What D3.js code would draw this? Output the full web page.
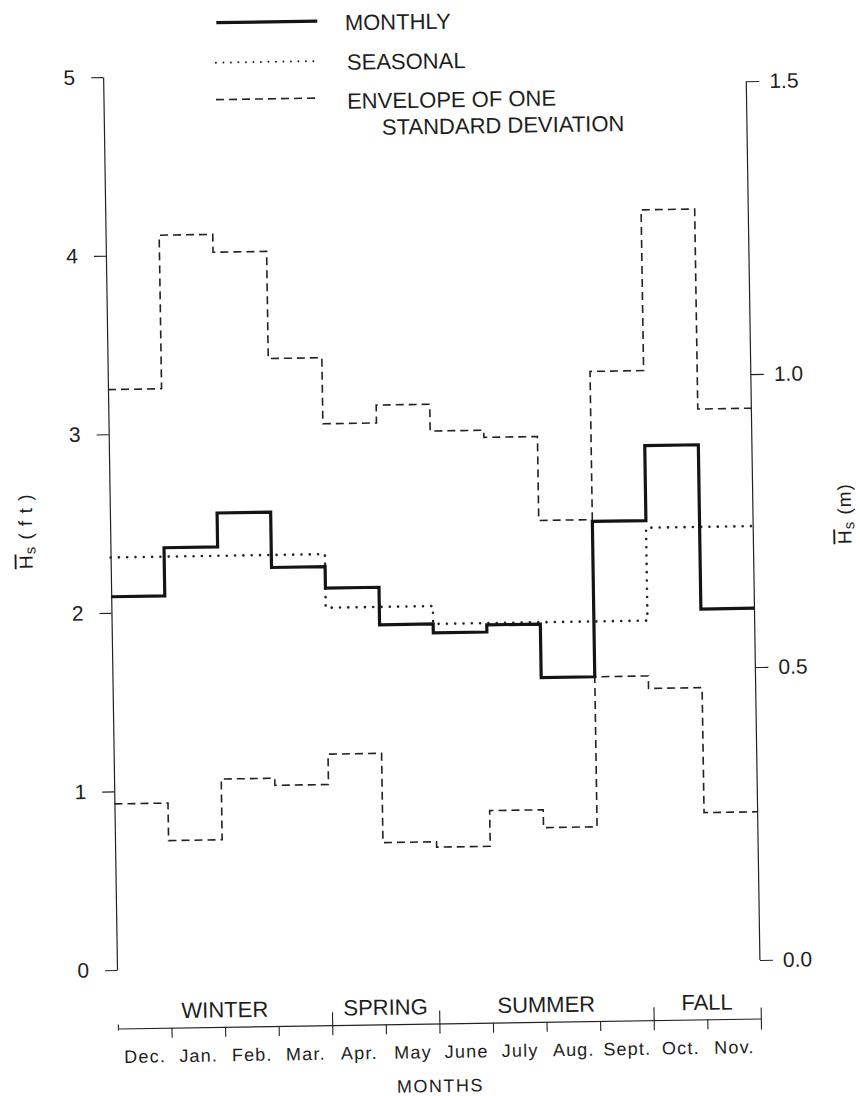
<!DOCTYPE html>
<html>
<head>
<meta charset="utf-8">
<script src="https://cdn.jsdelivr.net/npm/d3@7"></script>
<style>
  html, body { margin: 0; padding: 0; background: #fff; }
  svg { display: block; }
  text { font-family: "Liberation Sans", Arial, Helvetica, sans-serif; fill: #1e1e1e; }
</style>
</head>
<body>
<svg id="chart" width="860" height="1096"></svg>
<script>
// Mean significant wave height by month, in feet
const months = ["Dec.", "Jan.", "Feb.", "Mar.", "Apr.", "May", "June", "July", "Aug.", "Sept.", "Oct.", "Nov."];
const monthlyFt = [2.09, 2.36, 2.55, 2.24, 2.12, 1.91, 1.86, 1.90, 1.60, 2.47, 2.89, 1.97];
// One-standard-deviation envelope
const upperFt = [3.25, 4.11, 4.01, 3.41, 3.04, 3.14, 2.99, 2.95, 2.48, 3.31, 4.21, 3.09];
const lowerFt = [0.93, 0.72, 1.06, 1.02, 1.19, 0.69, 0.66, 0.86, 0.76, 1.60, 1.53, 0.83];
// Seasonal means (season start given as month index)
const seasons = ["WINTER", "SPRING", "SUMMER", "FALL"];
const seasonStart = [0, 4, 6, 10];
const seasonalFt = [2.31, 2.01, 1.91, 2.43];
// Axis ticks
const ftTicks = [0, 1, 2, 3, 4, 5];
const mTicks = [0.0, 0.5, 1.0, 1.5];
const FT_TO_M = 0.3048;

const svg = d3.select("#chart");

// Plot frame
const plotLeft = 117, plotRight = 760, plotBottom = 970, plotTop = 77;
const monthAxisY = 1028.5;

const x = d3.scaleLinear().domain([0, 12]).range([plotLeft, plotRight]);
const yFt = d3.scaleLinear().domain([0, 5]).range([plotBottom, plotTop]);
const yM = d3.scaleLinear().domain([0, 5 * FT_TO_M]).range([plotBottom, plotTop]);

// whole sheet sits slightly tilted
const g = svg.append("g").attr("transform", `rotate(-0.89, ${plotLeft}, ${plotBottom})`);

const INK = "#222";
const TEXT = "#262626";

// ---- Left axis (feet)
const axL = g.append("g")
  .attr("transform", `translate(${plotLeft},0)`)
  .call(d3.axisLeft(yFt).tickValues(ftTicks).tickFormat(d3.format("d"))
    .tickSize(12).tickSizeOuter(0).tickPadding(16));
axL.select(".domain").attr("stroke", INK).attr("stroke-width", 1.2);
axL.selectAll(".tick line").attr("stroke", INK).attr("stroke-width", 1.1);
axL.selectAll(".tick text").attr("font-size", 21).attr("font-family", null).attr("fill", TEXT);

// ---- Right axis (metres)
const axR = g.append("g")
  .attr("transform", `translate(${plotRight},0)`)
  .call(d3.axisRight(yM).tickValues(mTicks).tickFormat(d3.format(".1f"))
    .tickSize(13).tickSizeOuter(0).tickPadding(10));
axR.select(".domain").attr("stroke", INK).attr("stroke-width", 1.2)
  .attr("d", `M0,${yM(0)}V${yM(1.5)}`);
axR.selectAll(".tick line").attr("stroke", INK).attr("stroke-width", 1.1);
axR.selectAll(".tick text").attr("font-size", 21).attr("font-family", null).attr("fill", TEXT);

// ---- Axis titles
function hsTitle(tx, ty, unit) {
  const t = g.append("text")
    .attr("transform", `translate(${tx},${ty}) rotate(-90)`)
    .attr("text-anchor", "middle")
    .attr("font-size", 19)
    .attr("letter-spacing", 1)
    .attr("fill", TEXT);
  t.append("tspan").text("H").style("text-decoration", "overline");
  t.append("tspan").text("s").attr("font-size", 15).attr("dy", 3);
  t.append("tspan").text(unit).attr("dy", -3);
}
hsTitle(39, 530, " ( f t )");
hsTitle(858, 525, " (m)");

// ---- Month / season axis
const monthIdx = d3.range(0, 13);
const seasonEdges = [4, 6, 10];
const axB = g.append("g")
  .attr("transform", `translate(0,${monthAxisY})`)
  .call(d3.axisBottom(x).tickValues(monthIdx).tickFormat("").tickSize(10).tickSizeOuter(0));
axB.select(".domain").attr("stroke", INK).attr("stroke-width", 1.2);
axB.selectAll(".tick line")
  .attr("stroke", INK).attr("stroke-width", 1.1)
  .attr("y1", d => seasonEdges.includes(d) ? -13 : d === 12 ? -11 : d === 0 ? -4 : 0)
  .attr("y2", d => d === 0 ? 2 : d === 12 ? 11 : 10);

g.selectAll(".month-label")
  .data(months)
  .join("text")
  .attr("class", "month-label")
  .attr("x", (d, i) => x(i + 0.5))
  .attr("y", 1063)
  .attr("text-anchor", "middle")
  .attr("font-size", 18)
  .attr("letter-spacing", 1.2)
  .attr("fill", TEXT)
  .text(d => d);

const seasonEnd = seasonStart.slice(1).concat([12]);
g.selectAll(".season-label")
  .data(seasons)
  .join("text")
  .attr("class", "season-label")
  .attr("x", (d, i) => x((seasonStart[i] + seasonEnd[i]) / 2))
  .attr("y", 1019)
  .attr("text-anchor", "middle")
  .attr("font-size", 22)
  .attr("fill", TEXT)
  .text(d => d);

g.append("text")
  .attr("x", x(6))
  .attr("y", 1097)
  .attr("text-anchor", "middle")
  .attr("font-size", 18)
  .attr("letter-spacing", 1.5)
  .attr("fill", TEXT)
  .text("MONTHS");

// ---- Step lines
const stepLine = d3.line()
  .x(d => x(d[0]))
  .y(d => yFt(d[1]))
  .curve(d3.curveStepAfter);

const monthSteps = vals => vals.map((v, i) => [i, v]).concat([[12, vals[vals.length - 1]]]);
const seasonSteps = seasonStart.map((s, i) => [s, seasonalFt[i]])
  .concat([[12, seasonalFt[seasonalFt.length - 1]]]);

const dashed = sel => sel.attr("fill", "none").attr("stroke", "#222")
  .attr("stroke-width", 1.6).attr("stroke-dasharray", "8,5");
const dotted = sel => sel.attr("fill", "none").attr("stroke", "#222")
  .attr("stroke-width", 2.6).attr("stroke-dasharray", "0,8.3").attr("stroke-linecap", "round");
const solid = sel => sel.attr("fill", "none").attr("stroke", "#141414")
  .attr("stroke-width", 3.2).attr("stroke-linejoin", "miter");

g.append("path").attr("d", stepLine(monthSteps(upperFt))).call(dashed);
g.append("path").attr("d", stepLine(monthSteps(lowerFt))).call(dashed);
g.append("path").attr("d", stepLine(seasonSteps)).call(dotted);
g.append("path").attr("d", stepLine(monthSteps(monthlyFt))).call(solid);

// ---- Legend
const legend = [
  { label: ["MONTHLY"], style: solid, x1: 231, x2: 332, ly: 24.3, tx: 359.5, ty: 34 },
  { label: ["SEASONAL"], style: dotted, x1: 230, x2: 330, ly: 64.3, tx: 361, ty: 73.5 },
  { label: ["ENVELOPE OF ONE", "STANDARD DEVIATION"], style: dashed, x1: 229.5, x2: 333.5, ly: 101.3, tx: 360.5, ty: 112.5 }
];
const lg = g.append("g");
legend.forEach(L => {
  lg.append("line").attr("x1", L.x1).attr("x2", L.x2).attr("y1", L.ly).attr("y2", L.ly).call(L.style);
  const t = lg.append("text").attr("font-size", 22).attr("fill", TEXT);
  t.append("tspan").attr("x", L.tx).attr("y", L.ty).text(L.label[0]);
  if (L.label[1]) t.append("tspan").attr("x", L.tx + 34.5).attr("y", L.ty + 26.5).text(L.label[1]);
});
lg.selectAll("line").filter((d, i) => i === 1).attr("stroke-width", 2).attr("stroke-dasharray", "0,7.5");
</script>
</body>
</html>
